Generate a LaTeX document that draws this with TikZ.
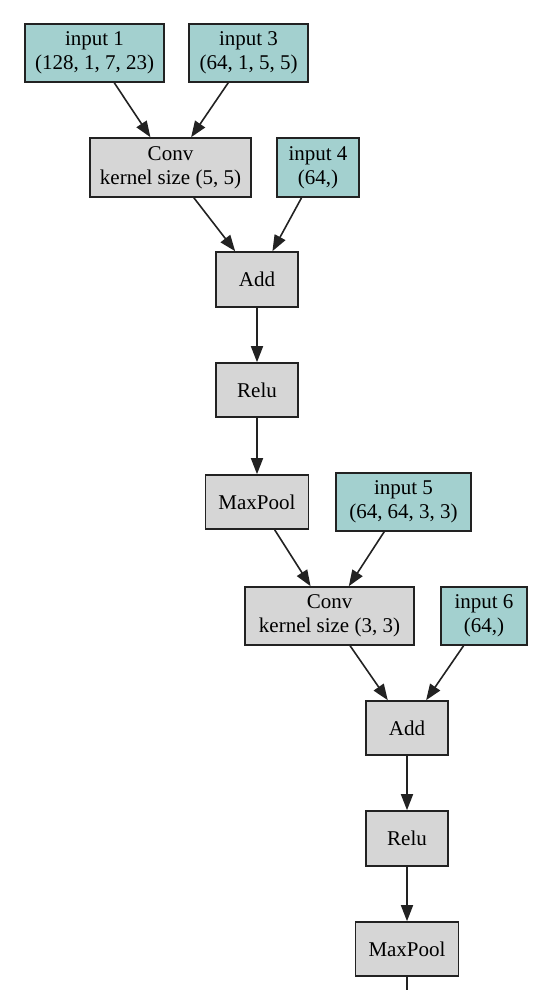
\documentclass[tikz,border=0pt]{standalone}
\usepackage{fontspec}
\setmainfont{Liberation Serif}
\usetikzlibrary{arrows.meta}
\definecolor{inpfill}{HTML}{A3D0CF}
\definecolor{opfill}{HTML}{D6D6D6}
\definecolor{edgecol}{HTML}{222222}
\begin{document}
\begin{tikzpicture}[x=1pt,y=-1pt,
  box/.style={draw=edgecol, line width=1.6pt, inner sep=0pt, align=center,
    font=\fontsize{21}{24}\selectfont},
  inp/.style={box, fill=inpfill},
  op/.style={box, fill=opfill},
  arr/.style={draw=edgecol, line width=1.6pt, -{Triangle[length=16pt,width=12pt]}},
  ln/.style={draw=edgecol, line width=1.6pt}]
\useasboundingbox (0,0) rectangle (549,990);
\node[inp, minimum width=139pt, minimum height=58pt] (in1) at (94.5,53) {input 1\\(128, 1, 7, 23)};
\node[inp, minimum width=119pt, minimum height=58pt] (in3) at (248.5,53) {input 3\\(64, 1, 5, 5)};
\node[op, minimum width=161pt, minimum height=59pt] (conv1) at (170.5,167.5) {Conv\\kernel size (5, 5)};
\node[inp, minimum width=82pt, minimum height=59pt] (in4) at (318,167.5) {input 4\\(64,)};
\node[op, minimum width=82pt, minimum height=55pt] (add1) at (257,279.5) {Add};
\node[op, minimum width=82pt, minimum height=54pt] (relu1) at (257,390) {Relu};
\node[op, minimum width=103pt, minimum height=54pt] (mp1) at (257,502) {MaxPool};
\node[inp, minimum width=135pt, minimum height=58pt] (in5) at (403.5,502) {input 5\\(64, 64, 3, 3)};
\node[op, minimum width=169pt, minimum height=58pt] (conv2) at (329.5,616) {Conv\\kernel size (3, 3)};
\node[inp, minimum width=86pt, minimum height=58pt] (in6) at (484,616) {input 6\\(64,)};
\node[op, minimum width=82pt, minimum height=54pt] (add2) at (407,728) {Add};
\node[op, minimum width=82pt, minimum height=55pt] (relu2) at (407,838.5) {Relu};
\node[op, minimum width=103pt, minimum height=54pt] (mp2) at (407,949) {MaxPool};
\coordinate (end) at (407,992);
\draw[arr] (in1) -- (conv1);
\draw[arr] (in3) -- (conv1);
\draw[arr] (conv1) -- (add1);
\draw[arr] (in4) -- (add1);
\draw[arr] (add1) -- (relu1);
\draw[arr] (relu1) -- (mp1);
\draw[arr] (mp1) -- (conv2);
\draw[arr] (in5) -- (conv2);
\draw[arr] (conv2) -- (add2);
\draw[arr] (in6) -- (add2);
\draw[arr] (add2) -- (relu2);
\draw[arr] (relu2) -- (mp2);
\draw[ln] (mp2) -- (end);
\end{tikzpicture}
\end{document}
